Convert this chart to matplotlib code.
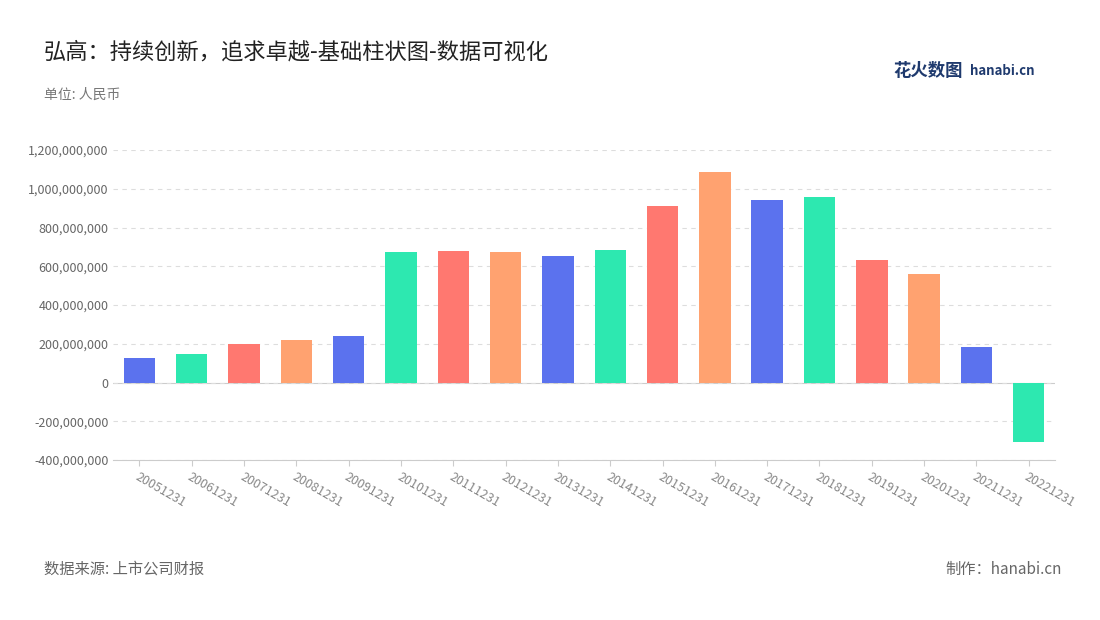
import matplotlib
matplotlib.use("Agg")
import matplotlib.pyplot as plt
from matplotlib.ticker import FuncFormatter

plt.rcParams['font.family'] = ['Noto Sans CJK SC', 'DejaVu Sans']

years = ["20051231","20061231","20071231","20081231","20091231","20101231","20111231",
         "20121231","20131231","20141231","20151231","20161231","20171231","20181231",
         "20191231","20201231","20211231","20221231"]
values = [129e6,145e6,199e6,217e6,240e6,672e6,677e6,672e6,654e6,682e6,912e6,1085e6,
          943e6,958e6,630e6,558e6,183e6,-307e6]
palette = ["#5b72ee","#2de8b0","#ff7870","#ffa270"]

fig = plt.figure(figsize=(11,6.2), dpi=100)
ax = fig.add_axes([0.103,0.258,0.856,0.5])
x = list(range(len(years)))
ax.bar(x, values, width=0.6, color=[palette[i%4] for i in x], zorder=3)
ax.set_xlim(-0.5, len(years)-0.5)
ax.set_ylim(-400e6, 1200e6)
ax.set_yticks([i*200e6 for i in range(-2,7)])
ax.yaxis.set_major_formatter(FuncFormatter(lambda v,p: f"{int(v):,}"))
ax.grid(axis='y', linestyle=(0,(4,4)), color='#dddddd', zorder=0)
for s in ['top','right','left']:
    ax.spines[s].set_visible(False)
ax.spines['bottom'].set_color('#cccccc')
ax.axhline(0, color='#cccccc', lw=0.8, zorder=1)
ax.tick_params(axis='y', length=0, labelsize=9, labelcolor='#666666')
ax.tick_params(axis='x', length=4, color='#cccccc', labelsize=9, labelcolor='#888888')
ax.set_xticks(x)
ax.set_xticklabels(years, rotation=-30, ha='left', rotation_mode='anchor')

fig.text(0.04, 0.905, "弘高：持续创新，追求卓越-基础柱状图-数据可视化", fontsize=16, color='#222222')
fig.text(0.04, 0.84, "单位: 人民币", fontsize=10, color='#777777')
fig.text(0.04, 0.075, "数据来源: 上市公司财报", fontsize=11, color='#666666')
fig.text(0.965, 0.075, "制作：hanabi.cn", fontsize=11, color='#666666', ha='right')
fig.text(0.812, 0.877, "花火数图", fontsize=12.5, color='#1f3a6e', fontweight='bold')
fig.text(0.882, 0.879, "hanabi.cn", fontsize=9.5, color='#1f3a6e', fontweight='bold')
fig.savefig("out.png", dpi=100, facecolor='white')
